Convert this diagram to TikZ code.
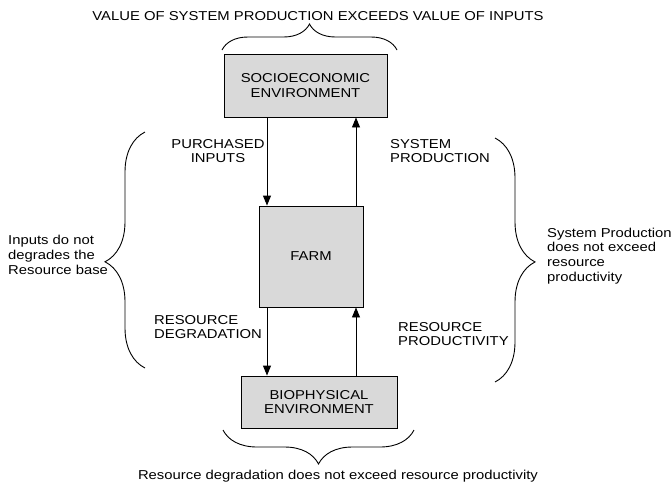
\documentclass[tikz,border=0pt]{standalone}
\usepackage{fontspec}
\setmainfont{Liberation Sans}[FakeStretch=1.15]
\usetikzlibrary{arrows.meta,decorations.pathreplacing}
\begin{document}
\begin{tikzpicture}[x=1pt,y=-1pt,
  font=\fontsize{12.9}{14.8}\selectfont,
  box/.style={draw=black, line width=0.9pt, fill=gray!30, align=center, inner sep=0pt},
  lbl/.style={inner sep=0pt, align=left},
  arr/.style={line width=0.9pt, -{Triangle[length=10pt,width=8pt]}},
  brc/.style={line width=0.9pt, decorate}]
\useasboundingbox (0,0) rectangle (671,485);
% boxes
\node[box, minimum width=163pt, minimum height=63pt] (socio) at (305.5,85.5) {SOCIOECONOMIC\\ENVIRONMENT};
\node[box, minimum width=104pt, minimum height=101pt] (farm) at (311,256.5) {FARM};
\node[box, minimum width=156pt, minimum height=52pt] (bio) at (319,402) {BIOPHYSICAL\\ENVIRONMENT};
% arrow columns
\coordinate (L) at (267,0);
\coordinate (R) at (356,0);
\draw[arr] (socio.south -| L) -- (farm.north -| L);
\draw[arr] (farm.north -| R) -- (socio.south -| R);
\draw[arr] (farm.south -| L) -- (bio.north -| L);
\draw[arr] (bio.north -| R) -- (farm.south -| R);
% labels
\node[lbl, align=center] (pi) at (218,151) {PURCHASED\\INPUTS};
\node[lbl, anchor=west] (sp) at (390,151) {SYSTEM\\PRODUCTION};
\node[lbl, anchor=west] (rd) at (154,327) {RESOURCE\\DEGRADATION};
\node[lbl, anchor=west] (rp) at (398,334) {RESOURCE\\PRODUCTIVITY};
% braces
\coordinate (tb1) at (222,50); \coordinate (tb2) at (397,50);
\draw[brc, decoration={brace, amplitude=26pt, aspect=0.5}] (tb1) -- (tb2);
\coordinate (bb1) at (414,430); \coordinate (bb2) at (223,430);
\draw[brc, decoration={brace, amplitude=34pt, aspect=0.5}] (bb1) -- (bb2);
\coordinate (lb1) at (145,368); \coordinate (lb2) at (145,132);
\draw[brc, decoration={brace, amplitude=40pt, aspect=0.45}] (lb1) -- (lb2);
\coordinate (rb1) at (495,138); \coordinate (rb2) at (495,382);
\draw[brc, decoration={brace, amplitude=40pt, aspect=0.508}] (rb1) -- (rb2);
% brace texts
\node[lbl, anchor=center] (tt) at (318,16) {VALUE OF SYSTEM PRODUCTION EXCEEDS VALUE OF INPUTS};
\node[lbl, anchor=center] (bt) at (338,476) {Resource degradation does not exceed resource productivity};
\node[lbl, anchor=west] (lt) at (8,255) {Inputs do not\\degrades the\\Resource base};
\node[lbl, anchor=west] (rt) at (547,256) {System Production\\does not exceed\\resource\\productivity};
\end{tikzpicture}
\end{document}
